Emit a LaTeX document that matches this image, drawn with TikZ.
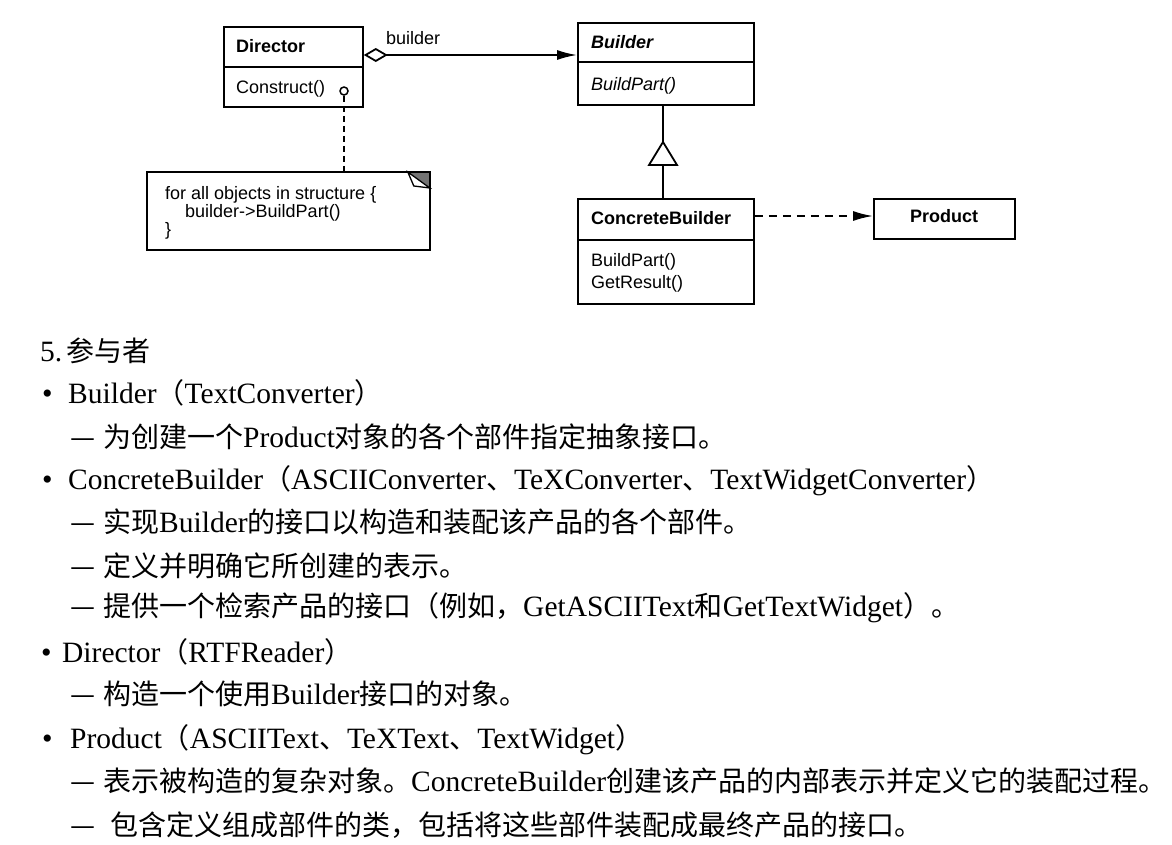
\documentclass[tikz,border=0pt]{standalone}
\usepackage{fontspec}
\setmainfont{Liberation Serif}
\newfontfamily\cjk{Noto Sans CJK SC}
\newfontfamily\hv{Liberation Sans}
\usetikzlibrary{arrows.meta,calc}
\newcommand\zh[1]{{\cjk\fontsize{28}{30}\selectfont #1}}
\tikzset{
  ln/.style={line width=1.8pt},
  umlbox/.style={draw, line width=1.8pt, inner sep=0pt, anchor=north west},
  umltext/.style={inner sep=0pt, anchor=base west, font=\hv\fontsize{18}{20}\selectfont},
  notetext/.style={inner sep=0pt, anchor=base west, font=\hv\fontsize{18}{18}\selectfont},
  body/.style={inner sep=0pt, anchor=base west, font=\fontsize{29.5}{34}\selectfont},
  bul/.style={inner sep=0pt, anchor=base west, font=\fontsize{30}{34}\selectfont},
}
\begin{document}
\begin{tikzpicture}[x=1pt,y=-1pt]
\useasboundingbox (0,0) rectangle (1172,844);
% ---------- Director ----------
\node[umlbox, minimum width=139pt, minimum height=80pt] (director) at (223,26) {};
\draw[ln] (director.west |- 0,67) -- (director.east |- 0,67);
\node[umltext] (dirname) at (236,52) {\bfseries Director};
\node[umltext] (dirop) at (236,93) {Construct()};
\node[circle, draw, line width=1.5pt, minimum size=8pt, inner sep=0pt] (lolli) at (344,91) {};
% ---------- Builder ----------
\node[umlbox, minimum width=176pt, minimum height=82pt] (builder) at (577,22) {};
\draw[ln] (builder.west |- 0,62) -- (builder.east |- 0,62);
\node[umltext] (bname) at (591,48) {\bfseries\itshape Builder};
\node[umltext] (bop) at (591,90) {\itshape BuildPart()};
% ---------- ConcreteBuilder ----------
\node[umlbox, minimum width=176pt, minimum height=105pt] (cb) at (577,198) {};
\draw[ln] (cb.west |- 0,240) -- (cb.east |- 0,240);
\node[umltext] (cbname) at (591,224) {\bfseries ConcreteBuilder};
\node[umltext] (cbop1) at (591,266) {BuildPart()};
\node[umltext] (cbop2) at (591,288) {GetResult()};
% ---------- Product ----------
\node[umlbox, minimum width=141pt, minimum height=40pt] (product) at (873,198) {};
\node[umltext, anchor=base] (pname) at (944,222) {\bfseries Product};
% ---------- Note ----------
\node[umlbox, draw=none, minimum width=281pt, minimum height=76pt] (note) at (147,172) {};
\fill[black!55] ($(note.north east)+(-22,0)$) -- (note.north east) -- ($(note.north east)+(0,16)$) -- cycle;
\draw[line width=1.3pt, fill=white] ($(note.north east)+(-22,0)$) -- ($(note.north east)+(-16,14)$) -- ($(note.north east)+(0,16)$) -- cycle;
\draw[ln] (note.north west) -- (note.north east) -- (note.south east) -- (note.south west) -- cycle;
\node[notetext] (n1) at (165,199) {for all objects in structure \{};
\node[notetext] (n2) at (185,217) {builder->BuildPart()};
\node[notetext] (n3) at (165,235) {\}};
% ---------- connectors ----------
\coordinate (aggy) at (0,55);
\draw[ln, {Diamond[open,length=24pt,width=14pt]}-{Latex[length=20pt,width=10pt]}] (director.east |- aggy) -- (builder.west |- aggy);
\node[umltext] (agglabel) at (386,44) {builder};
\draw[line width=1.8pt, dash pattern=on 6pt off 4pt] (lolli.south) -- (lolli.south |- note.north);
\draw[ln] (cb.north -| 663,0) -- (663,165);
\draw[ln, fill=white] (649,165) -- (663,142) -- (677,165) -- cycle;
\draw[ln] (663,142) -- (builder.south -| 663,0);
\coordinate (depy) at (0,216);
\draw[ln, dash pattern=on 8pt off 6pt, -{Latex[length=20pt,width=10pt]}] (cb.east |- depy) -- (product.west |- depy);
% ---------- Text ----------
\node[body] (t1) at (40,361) {5.\hspace{4pt}\zh{参与者}};
\node[bul] (b2) at (42,403) {•};
\node[body] (t2) at (68,403) {Builder\zh{（}TextConverter\zh{）}};
\node[body] (d3) at (70,447) {\zh{—}};
\node[body] (t3) at (103,447) {\zh{为创建一个}Product\zh{对象的各个部件指定抽象接口。}};
\node[bul] (b4) at (42,489) {•};
\node[body] (t4) at (68,489) {ConcreteBuilder\zh{（}ASCIIConverter\zh{、}TeXConverter\zh{、}TextWidgetConverter\zh{）}};
\node[body] (d5) at (70,532) {\zh{—}};
\node[body] (t5) at (103,532) {\zh{实现}Builder\zh{的接口以构造和装配该产品的各个部件。}};
\node[body] (d6) at (70,576) {\zh{—}};
\node[body] (t6) at (103,576) {\zh{定义并明确它所创建的表示。}};
\node[body] (d7) at (70,616) {\zh{—}};
\node[body] (t7) at (103,616) {\zh{提供一个检索产品的接口（例如，}GetASCIIText\zh{和}GetTextWidget\zh{）。}};
\node[bul] (b8) at (41,662) {•};
\node[body] (t8) at (62,662) {Director\zh{（}RTFReader\zh{）}};
\node[body] (d9) at (70,704) {\zh{—}};
\node[body] (t9) at (103,704) {\zh{构造一个使用}Builder\zh{接口的对象。}};
\node[bul] (b10) at (42,748) {•};
\node[body] (t10) at (70,748) {Product\zh{（}ASCIIText\zh{、}TeXText\zh{、}TextWidget\zh{）}};
\node[body] (d11) at (70,791) {\zh{—}};
\node[body] (t11) at (103,791) {\zh{表示被构造的复杂对象。}ConcreteBuilder\zh{创建该产品的内部表示并定义它的装配过程。}};
\node[body] (d12) at (70,835) {\zh{—}};
\node[body] (t12) at (110,835) {\zh{包含定义组成部件的类，包括将这些部件装配成最终产品的接口。}};
\end{tikzpicture}
\end{document}
